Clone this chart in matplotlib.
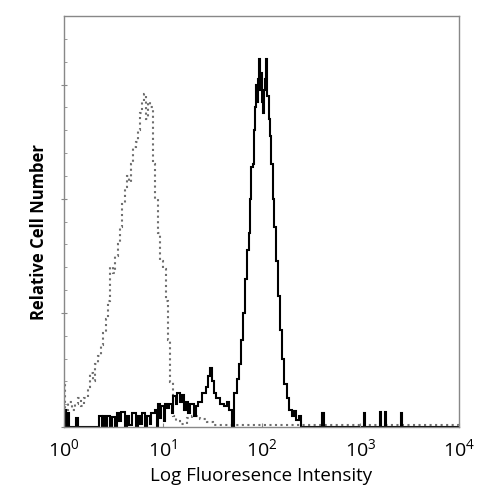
import matplotlib
matplotlib.use("Agg")
import matplotlib.pyplot as plt
import numpy as np

plt.rcParams['font.family'] = ['Open Sans', 'DejaVu Sans']
plt.rcParams['mathtext.fontset'] = 'custom'
plt.rcParams['mathtext.rm'] = 'Open Sans'
plt.rcParams['mathtext.default'] = 'regular'

# stained sample (solid): left bin edge -> relative count
solid_edges = [1.00, 1.04, 1.08, 1.12, 1.32, 1.38, 2.25, 2.40, 2.48, 2.62,
               2.75, 2.90, 3.05, 3.25, 3.45, 3.60, 3.75, 4.10, 4.30, 4.60,
               4.85, 5.40, 5.60, 5.90, 6.10, 6.60, 6.90, 7.40, 7.60, 8.3,
               8.7, 8.9, 9.3, 9.6, 10.2, 10.5, 11.0, 11.7, 12.3, 12.7,
               13.5, 14.0, 14.8, 15.5, 16.5, 17.2, 18.0, 19.0, 20.5, 21.5,
               23.0, 25.0, 27.5, 29.0, 30.0, 31.5, 33.0, 35.0, 38.0, 42.0,
               45.0, 47.0, 50.0, 53.0, 56.0, 59.0, 62.0, 65.0, 68.0, 71.0,
               74.0, 77.0, 79.0, 82.0, 84.0, 86.0, 88.0, 90.0, 92.0, 94.0,
               96.0, 98.0, 100.0, 103.0, 106.0, 109.0, 112.0, 115.0, 118.0, 121.0,
               125.0, 130.0, 135.0, 140.0, 146.0, 153.0, 161.0, 170.0, 180.0, 192.0,
               205.0, 215.0, 225.0, 240.0, 250.0, 410.0, 425.0, 1080.0, 1110.0, 1600.0,
               1640.0, 1800.0, 1840.0, 2600.0, 2660.0, 10000.0]
solid_counts = [0.15, 0.0, 0.12, 0.0, 0.08, 0.0, 0.1, 0.0, 0.1, 0.0,
                0.1, 0.0, 0.09, 0.0, 0.12, 0.05, 0.13, 0.0, 0.1, 0.02,
                0.12, 0.0, 0.1, 0.03, 0.12, 0.0, 0.1, 0.03, 0.12, 0.15,
                0.0, 0.2, 0.08, 0.18, 0.05, 0.2, 0.17, 0.2, 0.12, 0.27,
                0.2, 0.3, 0.22, 0.28, 0.15, 0.22, 0.12, 0.2, 0.1, 0.18,
                0.22, 0.3, 0.35, 0.45, 0.52, 0.4, 0.3, 0.25, 0.2, 0.18,
                0.22, 0.15, 0.0, 0.3, 0.42, 0.55, 0.76, 1.0, 1.3, 1.55,
                1.7, 2.0, 2.28, 2.3, 2.6, 2.8, 3.0, 2.85, 3.05, 3.22,
                2.95, 3.1, 2.85, 2.75, 2.95, 3.05, 3.22, 2.9, 2.7, 2.55,
                2.3, 2.0, 1.75, 1.45, 1.15, 0.85, 0.6, 0.38, 0.25, 0.15,
                0.1, 0.14, 0.06, 0.1, 0.0, 0.12, 0.0, 0.12, 0.0, 0.13,
                0.0, 0.13, 0.0, 0.12, 0.0]

# isotype control (dotted)
ctrl_edges = [1.00, 1.03, 1.1, 1.2, 1.3, 1.4, 1.5, 1.6, 1.75, 1.85,
              1.95, 2.05, 2.2, 2.35, 2.5, 2.65, 2.8, 2.95, 3.1, 3.3,
              3.5, 3.7, 3.9, 4.1, 4.3, 4.55, 4.75, 5.0, 5.3, 5.6,
              5.9, 6.2, 6.5, 6.8, 7.1, 7.5, 7.9, 8.3, 8.9, 9.3,
              10.0, 10.8, 11.2, 11.8, 12.6, 13.5, 15.0, 17.5, 20.0, 24.0,
              28.0, 32.0, 10000.0]
ctrl_counts = [0.38, 0.15, 0.22, 0.15, 0.2, 0.25, 0.18, 0.25, 0.35, 0.47,
               0.4, 0.55, 0.62, 0.72, 0.82, 0.95, 1.1, 1.4, 1.35, 1.5,
               1.6, 1.75, 1.95, 2.1, 2.2, 2.15, 2.3, 2.45, 2.5, 2.6,
               2.75, 2.85, 2.92, 2.7, 2.85, 2.8, 2.3, 2.0, 1.7, 1.45,
               1.38, 1.1, 0.76, 0.39, 0.1, 0.05, 0.03, 0.08, 0.1, 0.07,
               0.04, 0.02]

xticks = [1, 10, 100, 1000, 10000]
xtick_labels = ['$10^{0}$', '$10^{1}$', '$10^{2}$', '$10^{3}$', '$10^{4}$']

fig = plt.figure(figsize=(5, 5), dpi=100)
ax = fig.add_axes([0.128, 0.146, 0.79, 0.822])

ax.stairs(ctrl_counts, ctrl_edges, color='#6e6e6e', linestyle=':', linewidth=1.5)
ax.stairs(solid_counts, solid_edges, color='black', linewidth=1.5)

ax.set_xscale('log')
ax.set_xlim(1, 10000)
ax.set_ylim(0, 3.6)

ax.set_xticks(xticks)
ax.set_xticklabels(xtick_labels, fontsize=14)
ax.xaxis.set_minor_locator(matplotlib.ticker.NullLocator())
ax.tick_params(axis='x', direction='in', length=3, color='#888888', pad=8)

ax.set_yticks([0, 1, 2, 3])
ax.set_yticklabels([])
ax.set_yticks(np.arange(0, 3.6, 0.2), minor=True)
ax.tick_params(axis='y', which='major', direction='inout', length=5, color='#888888')
ax.tick_params(axis='y', which='minor', direction='in', length=2, color='#888888')

for s in ax.spines.values():
    s.set_color('#888888')
    s.set_linewidth(1.0)

ax.set_xlabel('Log Fluoresence Intensity', fontsize=13.5, labelpad=5)
ax.set_ylabel('Relative Cell Number', fontsize=12, fontweight='bold')
ax.yaxis.set_label_coords(-0.04, 0.474)

fig.savefig('out.png', dpi=100)
